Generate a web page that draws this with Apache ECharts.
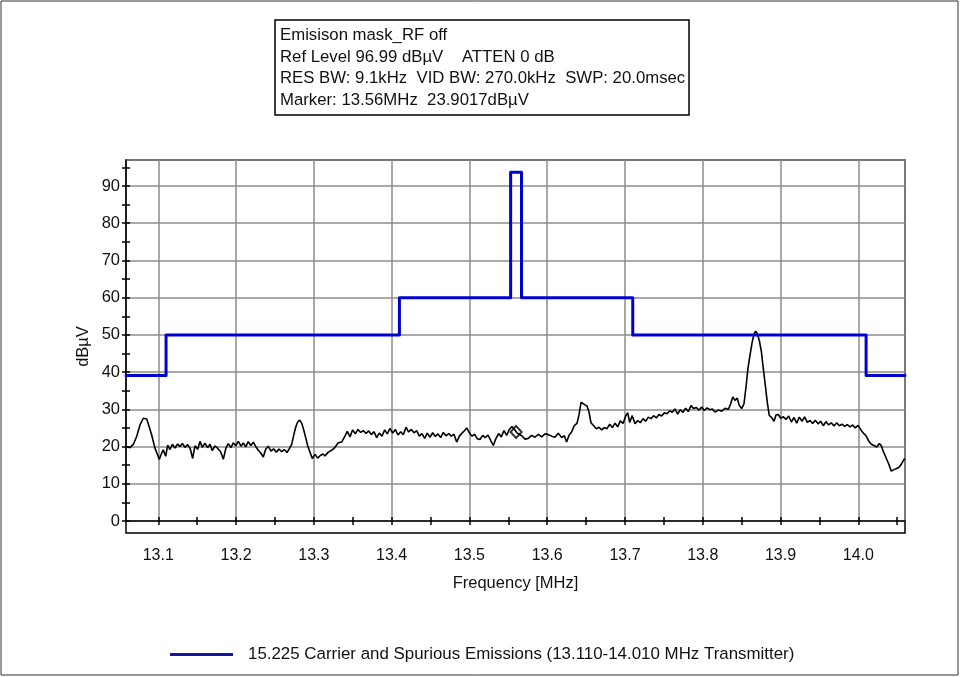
<!DOCTYPE html>
<html><head><meta charset="utf-8">
<script src="https://cdn.jsdelivr.net/npm/echarts@6/dist/echarts.min.js"></script>
<style>html,body{margin:0;padding:0;background:#fff}#chart{width:960px;height:677px}</style>
</head><body><div id="chart"></div>
<script>
const titleLines = [
  'Emisison mask_RF off',
  'Ref Level 96.99 dBµV    ATTEN 0 dB',
  'RES BW: 9.1kHz  VID BW: 270.0kHz  SWP: 20.0msec',
  'Marker: 13.56MHz  23.9017dBµV'
];
const xName = 'Frequency [MHz]';
const yName = 'dBµV';
const maskName = '15.225 Carrier and Spurious Emissions (13.110-14.010 MHz Transmitter)';
const traceName = 'Measured';
const freqMin = 13.0585, freqMax = 14.06;
const levelMin = 0, levelMax = 96.99;
const xTickValues = [13.1,13.15,13.2,13.25,13.3,13.35,13.4,13.45,13.5,13.55,13.6,13.65,13.7,13.75,13.8,13.85,13.9,13.95,14.0,14.05];
const yTickValues = [0,5,10,15,20,25,30,35,40,45,50,55,60,65,70,75,80,85,90,95];

const maskFreq  = [13.0585, 13.11, 13.11, 13.41, 13.41, 13.553, 13.553, 13.567, 13.567, 13.71, 13.71, 14.01, 14.01, 14.06];
const maskLevel = [39.1, 39.1, 50, 50, 60, 60, 93.7, 93.7, 60, 60, 50, 50, 39.1, 39.1];

const markerFreq = [13.56];
const markerLevel = [23.9017];

const traceFreq = [
13.0594,13.0636,13.0679,13.0722,13.0765,13.0807,13.0829,13.0851,13.0880,13.0915,
13.0958,13.0987,13.1013,13.1035,13.1064,13.1095,13.1121,13.1150,13.1180,13.1215,
13.1249,13.1279,13.1309,13.1343,13.1378,13.1411,13.1442,13.1472,13.1507,13.1536,
13.1566,13.1600,13.1635,13.1665,13.1694,13.1729,13.1764,13.1802,13.1836,13.1870,
13.1900,13.1935,13.1964,13.1995,13.2029,13.2063,13.2093,13.2124,13.2157,13.2192,
13.2221,13.2256,13.2286,13.2320,13.2350,13.2381,13.2414,13.2449,13.2484,13.2517,
13.2552,13.2587,13.2620,13.2655,13.2689,13.2715,13.2741,13.2766,13.2792,13.2818,
13.2844,13.2869,13.2895,13.2921,13.2950,13.2980,13.3015,13.3049,13.3083,13.3117,
13.3143,13.3186,13.3229,13.3272,13.3314,13.3358,13.3400,13.3430,13.3465,13.3499,
13.3533,13.3567,13.3602,13.3636,13.3670,13.3705,13.3739,13.3773,13.3808,13.3841,
13.3876,13.3911,13.3944,13.3979,13.4014,13.4047,13.4082,13.4117,13.4150,13.4185,
13.4219,13.4253,13.4288,13.4322,13.4356,13.4390,13.4425,13.4458,13.4493,13.4528,
13.4561,13.4596,13.4631,13.4664,13.4699,13.4734,13.4767,13.4802,13.4836,13.4870,
13.4905,13.4939,13.4965,13.4999,13.5033,13.5068,13.5101,13.5136,13.5171,13.5204,
13.5239,13.5274,13.5307,13.5342,13.5376,13.5410,13.5445,13.5479,13.5513,13.5547,
13.5582,13.5616,13.5672,13.5715,13.5757,13.5800,13.5843,13.5886,13.5929,13.5972,
13.6014,13.6058,13.6100,13.6143,13.6186,13.6220,13.6250,13.6280,13.6315,13.6348,
13.6383,13.6409,13.6435,13.6460,13.6486,13.6512,13.6537,13.6563,13.6598,13.6631,
13.6666,13.6701,13.6734,13.6769,13.6804,13.6837,13.6872,13.6906,13.6940,13.6975,
13.7009,13.7035,13.7060,13.7094,13.7129,13.7164,13.7197,13.7232,13.7266,13.7300,
13.7335,13.7369,13.7403,13.7437,13.7472,13.7506,13.7540,13.7575,13.7608,13.7643,
13.7678,13.7711,13.7746,13.7780,13.7814,13.7849,13.7883,13.7917,13.7952,13.7986,
13.8020,13.8055,13.8089,13.8123,13.8157,13.8200,13.8244,13.8286,13.8329,13.8359,
13.8385,13.8414,13.8444,13.8470,13.8500,13.8530,13.8556,13.8581,13.8607,13.8633,
13.8658,13.8680,13.8701,13.8727,13.8753,13.8778,13.8804,13.8830,13.8855,13.8886,
13.8916,13.8942,13.8971,13.9002,13.9036,13.9070,13.9105,13.9138,13.9173,13.9208,
13.9241,13.9276,13.9310,13.9344,13.9379,13.9413,13.9447,13.9482,13.9516,13.9550,
13.9584,13.9619,13.9652,13.9687,13.9722,13.9755,13.9790,13.9825,13.9858,13.9893,
13.9927,13.9961,13.9996,14.0030,14.0064,14.0099,14.0133,14.0167,14.0202,14.0237,
14.0270,14.0296,14.0321,14.0356,14.0391,14.0424,14.0459,14.0493,14.0527,14.0562,
14.0596
];
const traceLevel = [
20.0,19.7,20.6,22.7,25.8,27.6,28.0,27.4,25.5,23.1,
19.5,18.0,16.5,17.8,19.1,17.4,20.4,19.2,20.6,19.6,
20.7,20.0,20.8,19.8,20.5,19.4,16.8,20.2,19.3,21.4,
19.8,20.9,19.7,20.6,18.9,20.2,19.5,18.6,16.6,19.6,
20.8,19.7,21.0,20.2,21.4,20.1,21.0,19.9,21.3,20.3,
21.2,19.9,19.0,18.2,17.2,19.3,20.1,18.8,19.4,18.5,
19.3,18.6,19.2,18.4,19.6,20.6,23.0,25.2,26.6,27.1,
26.3,24.5,22.4,20.2,18.5,16.8,17.9,16.9,17.6,18.0,
17.5,18.5,19.0,19.8,21.0,21.2,22.8,24.1,22.6,24.5,
23.4,24.6,23.8,24.3,23.5,24.2,23.2,24.0,22.4,23.6,
22.8,24.5,23.4,24.9,23.6,24.6,23.1,24.0,23.2,25.2,
23.9,24.6,23.7,24.3,22.8,23.5,22.2,23.6,22.5,23.7,
22.7,23.4,22.4,23.8,22.9,23.5,22.8,23.3,21.2,22.8,
23.6,24.3,25.0,23.7,22.8,23.3,22.1,21.9,23.0,22.4,
23.1,21.6,20.3,22.2,23.5,22.6,24.3,23.0,24.6,25.4,
24.5,23.6,22.9,22.0,22.2,23.0,22.5,23.3,22.6,23.4,
23.2,22.8,22.5,23.6,22.4,22.9,21.2,23.0,24.0,25.6,
26.2,28.5,31.9,32.3,31.2,30.9,29.3,26.4,25.6,24.8,
25.2,24.5,25.1,24.8,26.0,25.1,26.3,25.3,26.9,26.2,
28.2,29.1,26.5,28.3,26.1,27.0,26.4,27.5,26.8,27.9,
27.5,28.3,27.7,28.6,28.2,29.1,28.8,29.6,29.2,30.1,
28.7,29.9,29.2,30.3,29.4,31.0,30.2,30.5,29.8,30.6,
29.7,30.4,29.9,30.1,29.3,29.8,29.5,30.3,30.0,31.5,
33.3,32.4,33.0,31.0,30.2,31.5,36.0,41.0,44.5,47.8,
50.2,51.0,50.3,48.5,45.6,41.0,36.5,31.8,28.4,27.8,
26.8,28.5,28.6,27.6,28.0,27.3,28.2,26.6,27.8,26.3,
27.9,26.8,28.0,26.5,27.0,26.2,27.1,26.1,26.8,25.6,
26.7,25.8,26.4,25.5,26.4,25.6,26.0,25.4,25.9,25.3,
25.8,25.0,25.7,24.6,23.6,22.9,21.5,20.6,20.3,19.9,
20.8,20.2,18.7,17.0,15.3,13.4,13.8,14.1,14.5,15.6,
16.8
];

const FONT = "'Liberation Sans', Arial, Helvetica, sans-serif";
const GRID_COLOR = '#8c8c8c';
const chart = echarts.init(document.getElementById('chart'), null, {renderer: 'canvas', width: 960, height: 677});

function tickAxis(inside, values, extra) {
  return Object.assign({
    gridIndex: 0, type: 'value',
    axisLine: {show: false, onZero: false},
    axisLabel: {show: false},
    splitLine: {show: false},
    axisTick: {show: true, inside: inside, length: 4, customValues: values, lineStyle: {color: '#000', width: 1.5}}
  }, extra);
}

const option = {
  backgroundColor: '#fff',
  animation: false,
  textStyle: {fontFamily: FONT},
  title: {
    text: titleLines.join('\n'),
    left: 275, top: 20,
    padding: [5, 4, 4, 5],
    borderColor: '#000', borderWidth: 1.5,
    backgroundColor: '#fff',
    textStyle: {fontFamily: FONT, fontSize: 16.75, fontWeight: 'normal', color: '#111', lineHeight: 21.5}
  },
  legend: {
    left: 165, top: 641,
    selectedMode: false,
    itemWidth: 63, itemHeight: 3,
    data: [{name: maskName, icon: 'rect', itemStyle: {color: '#16169a'}}],
    textStyle: {fontFamily: FONT, fontSize: 16.9, color: '#111', padding: [0, 0, 0, 10]}
  },
  grid: [
    {left: 126, right: 55, top: 160, bottom: 156},
    {left: 126, right: 55, top: 160, bottom: 144, show: true, borderColor: '#000', borderWidth: 1.5, backgroundColor: 'transparent'},
    {left: 1, right: 2, top: 1, bottom: 2, show: true, borderColor: '#333', borderWidth: 1, backgroundColor: 'transparent'}
  ],
  xAxis: [
    {
      gridIndex: 0, type: 'value', position: 'bottom',
      min: freqMin, max: freqMax, minInterval: 0.1, maxInterval: 0.1, splitNumber: 10,
      axisLine: {show: true, onZero: false, lineStyle: {color: '#000', width: 1.5}},
      axisTick: {show: false},
      axisLabel: {margin: 27, fontSize: 16, color: '#111', fontFamily: FONT, showMinLabel: false, showMaxLabel: false,
        formatter: v => v.toFixed(1)},
      splitLine: {show: true, lineStyle: {color: GRID_COLOR, width: 1.5}},
      name: xName, nameLocation: 'middle', nameGap: 54,
      nameTextStyle: {fontSize: 16.5, color: '#111', fontFamily: FONT}
    },
    tickAxis(true, xTickValues, {position: 'bottom', min: freqMin, max: freqMax}),
    tickAxis(false, xTickValues, {position: 'bottom', min: freqMin, max: freqMax}),
    {gridIndex: 1, type: 'value', show: false, min: freqMin, max: freqMax},
    {gridIndex: 2, type: 'value', show: false, min: 0, max: 1}
  ],
  yAxis: [
    {
      gridIndex: 0, type: 'value', position: 'left',
      min: levelMin, max: levelMax, interval: 10,
      axisLine: {show: true, onZero: false, lineStyle: {color: '#000', width: 1.5}},
      axisTick: {show: false},
      axisLabel: {margin: 6, fontSize: 16.5, color: '#111', fontFamily: FONT, showMaxLabel: false},
      splitLine: {show: true, lineStyle: {color: GRID_COLOR, width: 1.5}}
    },
    tickAxis(true, yTickValues, {position: 'left', min: levelMin, max: levelMax}),
    tickAxis(false, yTickValues, {position: 'left', min: levelMin, max: levelMax}),
    {
      gridIndex: 1, type: 'value', min: -3, max: levelMax,
      axisLine: {show: false}, axisTick: {show: false}, axisLabel: {show: false}, splitLine: {show: false},
      name: yName, nameLocation: 'middle', nameGap: 34,
      nameTextStyle: {fontSize: 16.5, color: '#111', fontFamily: FONT}
    },
    {gridIndex: 2, type: 'value', show: false, min: 0, max: 1}
  ],
  series: [
    {
      name: 'Marker', type: 'scatter', xAxisIndex: 0, yAxisIndex: 0,
      data: markerFreq.map((f, i) => [f, markerLevel[i]]),
      symbol: 'emptyDiamond', symbolSize: [11, 12],
      itemStyle: {color: '#000', borderWidth: 1.2},
      z: 2, silent: true
    },
    {
      name: traceName, type: 'line', xAxisIndex: 0, yAxisIndex: 0,
      data: traceFreq.map((f, i) => [f, traceLevel[i]]),
      symbol: 'none', lineStyle: {color: '#000', width: 1.6},
      z: 3, silent: true
    },
    {
      name: maskName, type: 'line', xAxisIndex: 0, yAxisIndex: 0,
      data: maskFreq.map((f, i) => [f, maskLevel[i]]),
      symbol: 'none', color: '#0000d0',
      lineStyle: {color: '#0000d0', width: 3, join: 'round', cap: 'round'},
      z: 4, silent: true
    }
  ]
};
chart.setOption(option);
</script>
</body></html>
